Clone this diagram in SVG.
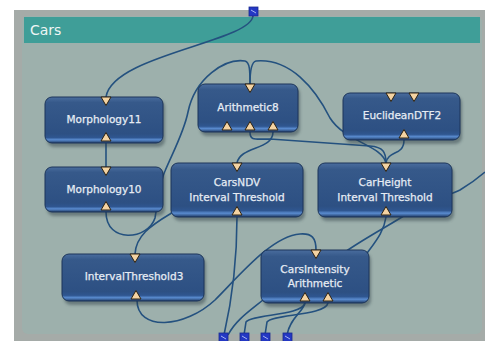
<svg xmlns="http://www.w3.org/2000/svg" width="485" height="341" viewBox="0 0 485 341">
<defs>
<linearGradient id="ng" x1="0" y1="0" x2="0" y2="1">
<stop offset="0" stop-color="#4a6d9e"/>
<stop offset="0.12" stop-color="#36598a"/>
<stop offset="0.8" stop-color="#2d5083"/>
<stop offset="0.88" stop-color="#2f5690"/>
<stop offset="0.93" stop-color="#5a8cd0"/>
<stop offset="1" stop-color="#1f3b66"/>
</linearGradient>
<filter id="sh" x="-10%" y="-10%" width="130%" height="140%">
<feGaussianBlur stdDeviation="1.6"/>
</filter>
<path id="tin" d="M-5,0 L5,0 L0,8.5 Z"/>
<path id="tout" d="M-5,0 L5,0 L0,-8.5 Z"/>
</defs>
<style>
.box{fill:url(#ng);stroke:#1c355a;stroke-width:1}
.shadow{fill:#2c3a44;opacity:0.45;filter:url(#sh)}
.lbl{font-family:"DejaVu Sans",Verdana,sans-serif;font-size:10.5px;fill:#e6ecf4;text-anchor:middle;stroke:#e6ecf4;stroke-width:0.25}
.port{fill:#f4d3a2;stroke:#2e2210;stroke-width:1}
.wire{fill:none;stroke:#24517f;stroke-width:1.6}
.sq{fill:#2438c4;stroke:#1a2a90;stroke-width:0.8}
.sqi{fill:none;stroke:#c8d4ff;stroke-width:0.8}
</style>
<rect x="0" y="0" width="485" height="341" fill="#ffffff"/>
<rect x="14" y="10" width="471" height="331" fill="#a5aba8"/>
<rect x="22" y="16" width="460" height="318" rx="6" fill="#9db0ac"/>
<g id="header">
<rect x="24" y="17" width="456" height="26" fill="#3f9e98"/>
<text x="30" y="35" font-family="DejaVu Sans,Verdana,sans-serif" font-size="14" fill="#eef5f4">Cars</text>
</g>
<g id="connectors">
<path class="wire" d="M253,16 C250,42 112,55 106,97"/>
<path class="wire" d="M106,143 L106,167"/>
<path class="wire" d="M106,212 C106,244 148,240 155,218 C158,200 160,182 165,171 C173,152 184,132 188,112 C195,78 225,58 245,61 C250,62 250,72 250,84"/>
<path class="wire" d="M250,84 C250,72 251,62 256,61 C290,58 315,88 330,118 C345,142 382,145 386,163"/>
<path class="wire" d="M250,132 C250,141 255,139 270,139 L370,146 C383,147 386,152 386,163"/>
<path class="wire" d="M404,140 C404,156 388,150 386,163"/>
<path class="wire" d="M273,132 C273,150 240,146 237,163"/>
<path class="wire" d="M190,200 C182,208 176,210 170,214 C150,226 136,236 135,254"/>
<path class="wire" d="M137,300 C137,332 185,328 215,300 C240,275 272,236 300,234 C312,233 316,238 316,250"/>
<path class="wire" d="M237,217 C237,262 232,300 224,335"/>
<path class="wire" d="M272,292 C258,306 238,316 228,335"/>
<path class="wire" d="M305,303 C302,316 252,314 246,322 L244,335"/>
<path class="wire" d="M328,303 C325,316 272,314 267,322 L265,335"/>
<path class="wire" d="M305,303 C303,312 290,318 287,335"/>
<path class="wire" d="M386,217 C384,232 375,242 365,256"/>
<path class="wire" d="M345,252 C365,238 390,225 410,212 C430,200 450,195 460,190 C470,184 478,178 485,172"/>
</g>
<g id="ports-io">
<rect class="sq" x="249" y="7" width="9" height="9"/><path class="sqi" d="M251,10 L256,13"/>
<rect class="sq" x="219" y="333" width="9" height="9"/><path class="sqi" d="M221,336 L226,339"/>
<rect class="sq" x="240" y="333" width="9" height="9"/><path class="sqi" d="M242,336 L247,339"/>
<rect class="sq" x="261" y="333" width="9" height="9"/><path class="sqi" d="M263,336 L268,339"/>
<rect class="sq" x="283" y="333" width="9" height="9"/><path class="sqi" d="M285,336 L290,339"/>
</g>
<g id="morphology11">
<rect class="shadow" x="47" y="100" width="118" height="47" rx="7"/>
<rect class="box" x="45" y="97" width="118" height="46" rx="7"/>
<text class="lbl" x="104" y="123">Morphology11</text>
<use href="#tin" class="port" x="106" y="97"/>
<use href="#tout" class="port" x="106" y="141"/>
</g>
<g id="arithmetic8">
<rect class="shadow" x="200" y="87" width="100" height="49" rx="7"/>
<rect class="box" x="198" y="84" width="100" height="48" rx="7"/>
<text class="lbl" x="248" y="111">Arithmetic8</text>
<use href="#tin" class="port" x="250" y="84"/>
<use href="#tout" class="port" x="227" y="130"/>
<use href="#tout" class="port" x="250" y="130"/>
<use href="#tout" class="port" x="273" y="130"/>
</g>
<g id="euclideandtf2">
<rect class="shadow" x="345" y="96" width="117" height="48" rx="7"/>
<rect class="box" x="343" y="93" width="117" height="47" rx="7"/>
<text class="lbl" x="402" y="119">EuclideanDTF2</text>
<use href="#tin" class="port" x="391" y="93"/>
<use href="#tin" class="port" x="414" y="93"/>
<use href="#tout" class="port" x="404" y="138"/>
</g>
<g id="morphology10">
<rect class="shadow" x="47" y="170" width="118" height="46" rx="7"/>
<rect class="box" x="45" y="167" width="118" height="45" rx="7"/>
<text class="lbl" x="104" y="193">Morphology10</text>
<use href="#tin" class="port" x="106" y="167"/>
<use href="#tout" class="port" x="106" y="210"/>
</g>
<g id="carsndv">
<rect class="shadow" x="173" y="166" width="132" height="55" rx="7"/>
<rect class="box" x="171" y="163" width="132" height="54" rx="7"/>
<text class="lbl" x="237" y="186">CarsNDV</text>
<text class="lbl" x="237" y="201">Interval Threshold</text>
<use href="#tin" class="port" x="237" y="163"/>
<use href="#tout" class="port" x="237" y="215"/>
</g>
<g id="carheight">
<rect class="shadow" x="320" y="166" width="134" height="55" rx="7"/>
<rect class="box" x="318" y="163" width="134" height="54" rx="7"/>
<text class="lbl" x="385" y="186">CarHeight</text>
<text class="lbl" x="385" y="201">Interval Threshold</text>
<use href="#tin" class="port" x="386" y="163"/>
<use href="#tout" class="port" x="386" y="215"/>
</g>
<g id="intervalthreshold3">
<rect class="shadow" x="64" y="257" width="142" height="48" rx="7"/>
<rect class="box" x="62" y="254" width="142" height="47" rx="7"/>
<text class="lbl" x="134" y="280">IntervalThreshold3</text>
<use href="#tin" class="port" x="135" y="254"/>
<use href="#tout" class="port" x="136" y="299"/>
</g>
<g id="carsintensity">
<rect class="shadow" x="263" y="253" width="108" height="54" rx="7"/>
<rect class="box" x="261" y="250" width="108" height="53" rx="7"/>
<text class="lbl" x="315" y="273">CarsIntensity</text>
<text class="lbl" x="315" y="287">Arithmetic</text>
<use href="#tin" class="port" x="316" y="250"/>
<use href="#tout" class="port" x="305" y="301"/>
<use href="#tout" class="port" x="328" y="301"/>
</g>
</svg>
